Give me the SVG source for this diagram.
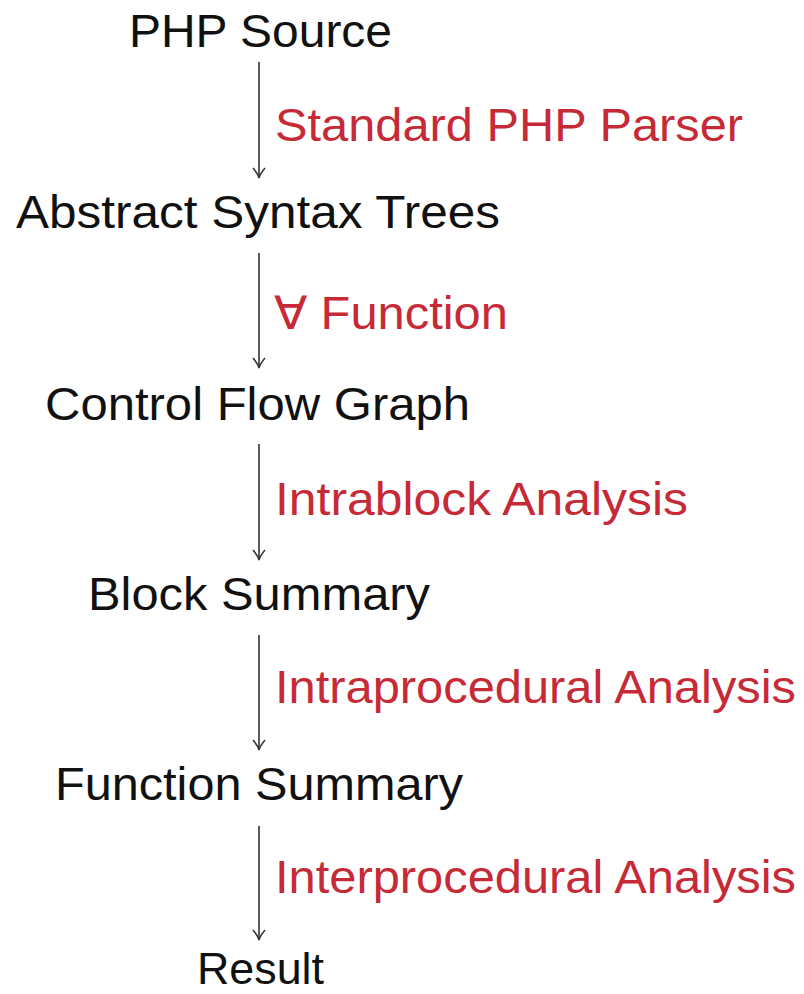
<svg xmlns="http://www.w3.org/2000/svg" width="804" height="994" viewBox="0 0 804 994">
<style>
.n{font-family:"Liberation Sans",Arial,sans-serif;font-size:46px;fill:#111}
.l{font-family:"Liberation Sans",Arial,sans-serif;font-size:46px;fill:#c62a36}
.e{stroke:#333;stroke-width:1.6;fill:none}
</style>
<defs>
<marker id="ah" viewBox="-12 -7 14 14" refX="0" refY="0" markerWidth="14" markerHeight="14" markerUnits="userSpaceOnUse" orient="auto">
<path d="M-10,-6 Q-4,-1 0,0 Q-4,1 -10,6" fill="none" stroke="#333" stroke-width="1.5"/>
</marker>
</defs>
<g id="edges">
<line class="e" x1="259" y1="62" x2="259" y2="178" marker-end="url(#ah)"/>
<line class="e" x1="259" y1="253" x2="259" y2="368" marker-end="url(#ah)"/>
<line class="e" x1="259" y1="444" x2="259" y2="560" marker-end="url(#ah)"/>
<line class="e" x1="259" y1="635" x2="259" y2="750" marker-end="url(#ah)"/>
<line class="e" x1="259" y1="826" x2="259" y2="940" marker-end="url(#ah)"/>
<text class="l" x="275" y="141" textLength="468" lengthAdjust="spacingAndGlyphs">Standard PHP Parser</text>
<text class="l" x="274" y="329" textLength="234" lengthAdjust="spacingAndGlyphs">∀ Function</text>
<text class="l" x="275" y="515" textLength="413" lengthAdjust="spacingAndGlyphs">Intrablock Analysis</text>
<text class="l" x="275" y="703" textLength="521" lengthAdjust="spacingAndGlyphs">Intraprocedural Analysis</text>
<text class="l" x="275" y="893" textLength="521" lengthAdjust="spacingAndGlyphs">Interprocedural Analysis</text>
</g>
<g id="php-source"><text class="n" x="129" y="47" textLength="263" lengthAdjust="spacingAndGlyphs">PHP Source</text></g>
<g id="ast"><text class="n" x="16" y="228" textLength="484" lengthAdjust="spacingAndGlyphs">Abstract Syntax Trees</text></g>
<g id="cfg"><text class="n" x="45" y="420" textLength="425" lengthAdjust="spacingAndGlyphs">Control Flow Graph</text></g>
<g id="block-summary"><text class="n" x="88" y="610" textLength="342" lengthAdjust="spacingAndGlyphs">Block Summary</text></g>
<g id="function-summary"><text class="n" x="55" y="800" textLength="408" lengthAdjust="spacingAndGlyphs">Function Summary</text></g>
<g id="result"><text class="n" x="197" y="984" style="font-size:44px" textLength="127" lengthAdjust="spacingAndGlyphs">Result</text></g>
</svg>
